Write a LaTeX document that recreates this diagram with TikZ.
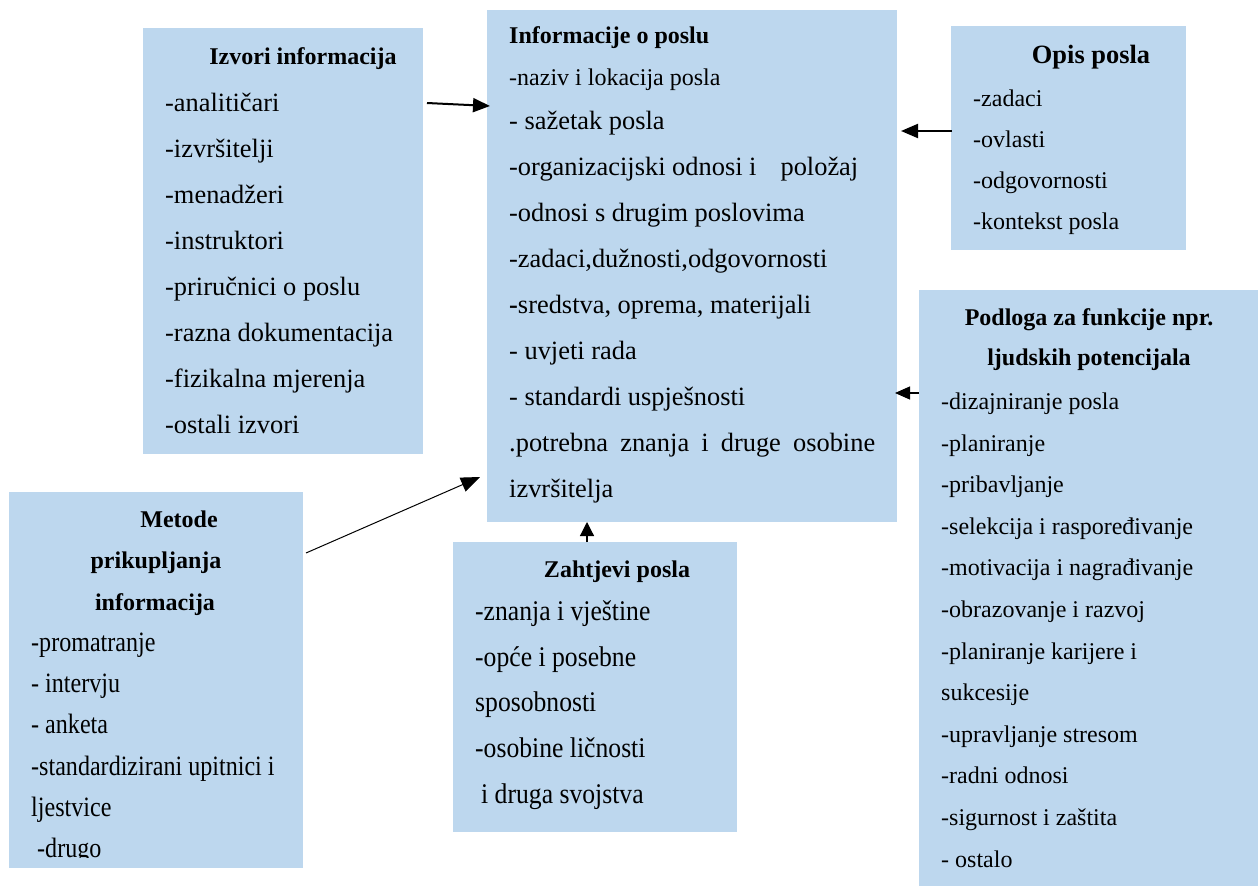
\documentclass[tikz,border=0pt]{standalone}
\usepackage{fontspec}
\setmainfont{Liberation Serif}
\newfontfamily\narrowserif[FakeStretch=0.86]{Liberation Serif}
\newfontfamily\narrowserifz[FakeStretch=0.9]{Liberation Serif}
\usetikzlibrary{arrows.meta}
\definecolor{boxblue}{HTML}{BDD7EE}

\begin{document}
\begin{tikzpicture}[x=1pt,y=-1pt,
    box/.style={fill=boxblue,inner sep=0pt,outer sep=0pt,anchor=north west},
    head/.style={inner sep=0pt,anchor=base,font=\bfseries\fontsize{24}{28}\selectfont},
    item/.style={inner sep=0pt,anchor=base west,font=\fontsize{24}{28}\selectfont},
    bigitem/.style={item,font=\fontsize{26.4}{30}\selectfont},
    narrowitem/.style={item,font=\narrowserif\fontsize{28}{32}\selectfont},
    link/.style={-{Triangle[length=17pt,width=14pt]},line width=2pt},
    thinlink/.style={-{Triangle[length=15pt,width=13pt]},line width=1.2pt}]
    \useasboundingbox (0,0) rectangle (1258,886);
    \node [box,minimum width=280pt,minimum height=426pt] (izvori) at (143,28) {};
    \node [box,minimum width=410pt,minimum height=512pt] (info) at (487,10) {};
    \node [box,minimum width=235pt,minimum height=224pt] (opis) at (951,26) {};
    \node [box,minimum width=339pt,minimum height=596pt] (podloga) at (919,290) {};
    \node [box,minimum width=294pt,minimum height=376pt] (metode) at (9,492) {};
    \node [box,minimum width=284pt,minimum height=290pt] (zahtjevi) at (453,542) {};
    \node [head] (izvori-h) at (303,64) {Izvori informacija};
    \node [bigitem] (izvori-1) at (165,111) {-analitičari};
    \node [bigitem] (izvori-2) at (165,157) {-izvršitelji};
    \node [bigitem] (izvori-3) at (165,203) {-menadžeri};
    \node [bigitem] (izvori-4) at (165,249) {-instruktori};
    \node [bigitem] (izvori-5) at (165,295) {-priručnici o poslu};
    \node [bigitem] (izvori-6) at (165,341) {-razna dokumentacija};
    \node [bigitem] (izvori-7) at (165,387) {-fizikalna mjerenja};
    \node [bigitem] (izvori-8) at (165,433) {-ostali izvori};
    \node [head,anchor=base west] (info-h) at (509,43) {Informacije o poslu};
    \node [item] (info-1) at (509,85) {-naziv i lokacija posla};
    \node [bigitem] (info-2) at (509,129) {- sažetak posla};
    \node [bigitem] (info-3) at (509,175) {-organizacijski odnosi i\hspace{24pt}položaj};
    \node [bigitem] (info-4) at (509,221) {-odnosi s drugim poslovima};
    \node [bigitem] (info-5) at (509,267) {-zadaci,dužnosti,odgovornosti};
    \node [bigitem] (info-6) at (509,313) {\textbf{-}sredstva, oprema, materijali};
    \node [bigitem] (info-7) at (509,359) {- uvjeti rada};
    \node [bigitem] (info-8) at (509,405) {- standardi uspješnosti};
    \node [bigitem] (info-9) at (509,451) {\makebox[366pt][s]{.potrebna znanja i druge osobine}};
    \node [bigitem] (info-10) at (509,497) {izvršitelja};
    \node [head,font=\bfseries\fontsize{26.4}{30}\selectfont] (opis-h) at (1091,63) {Opis posla};
    \node [item] (opis-1) at (973,106) {-zadaci};
    \node [item] (opis-2) at (973,147) {-ovlasti};
    \node [item] (opis-3) at (973,188) {-odgovornosti};
    \node [item] (opis-4) at (973,229) {-kontekst posla};
    \node [head] (podloga-h1) at (1089,325) {Podloga za funkcije npr.};
    \node [head] (podloga-h2) at (1089,365) {ljudskih potencijala};
    \node [item] (podloga-1) at (941,409) {-dizajniranje posla};
    \node [item] (podloga-2) at (941,451) {-planiranje};
    \node [item] (podloga-3) at (941,492) {-pribavljanje};
    \node [item] (podloga-4) at (941,534) {-selekcija i raspoređivanje};
    \node [item] (podloga-5) at (941,575) {-motivacija i nagrađivanje};
    \node [item] (podloga-6) at (941,617) {-obrazovanje i razvoj};
    \node [item] (podloga-7) at (941,659) {-planiranje karijere i};
    \node [item] (podloga-8) at (941,700) {sukcesije};
    \node [item] (podloga-9) at (941,742) {-upravljanje stresom};
    \node [item] (podloga-10) at (941,783) {-radni odnosi};
    \node [item] (podloga-11) at (941,825) {-sigurnost i zaštita};
    \node [item] (podloga-12) at (941,867) {- ostalo};
    \node [head] (metode-h1) at (179,527) {Metode};
    \node [head] (metode-h2) at (156,568) {prikupljanja};
    \node [head] (metode-h3) at (155,610) {informacija};
    \node [narrowitem] (metode-1) at (31,651) {-promatranje};
    \node [narrowitem] (metode-2) at (31,692) {- intervju};
    \node [narrowitem] (metode-3) at (31,733) {- anketa};
    \node [narrowitem] (metode-4) at (31,775) {-standardizirani upitnici i};
    \node [narrowitem] (metode-5) at (31,816) {ljestvice};
    \begin{scope}
    \clip (9,830) rectangle (303,857);
    \node [narrowitem] (metode-6) at (37,857) {-drugo};
    \end{scope}
    \node [head] (zahtjevi-h) at (617,577) {Zahtjevi posla};
    \node [narrowitem,font=\narrowserifz\fontsize{28.5}{32}\selectfont] (zahtjevi-1) at (475,620) {-znanja i vještine};
    \node [narrowitem,font=\narrowserifz\fontsize{28.5}{32}\selectfont] (zahtjevi-2) at (475,666) {-opće i posebne};
    \node [narrowitem,font=\narrowserifz\fontsize{28.5}{32}\selectfont] (zahtjevi-3) at (475,711) {sposobnosti};
    \node [narrowitem,font=\narrowserifz\fontsize{28.5}{32}\selectfont] (zahtjevi-4) at (475,757) {-osobine ličnosti};
    \node [narrowitem,font=\narrowserifz\fontsize{28.5}{32}\selectfont] (zahtjevi-5) at (481,803) {i druga svojstva};
    \draw [link] ([xshift=4pt,yshift=-75pt]izvori.north east) -- ([xshift=3pt,yshift=-96pt]info.north west);
    \draw [link] ([xshift=1pt,yshift=-105pt]opis.north west) -- ([xshift=4pt,yshift=-121pt]info.north east);
    \draw [thinlink] ([yshift=-103pt]podloga.north west) -- ([xshift=-2pt,yshift=-383pt]info.north east);
    \draw [-{Triangle[length=19pt,width=15pt]},line width=1pt] ([xshift=3pt,yshift=-61pt]metode.north east) -- ([xshift=-7pt,yshift=45pt]info.south west);
    \draw [-{Triangle[length=14pt,width=14pt]},line width=1.2pt] ([xshift=134pt]zahtjevi.north west) -- ([xshift=100pt]info.south west);
\end{tikzpicture}
\end{document}
